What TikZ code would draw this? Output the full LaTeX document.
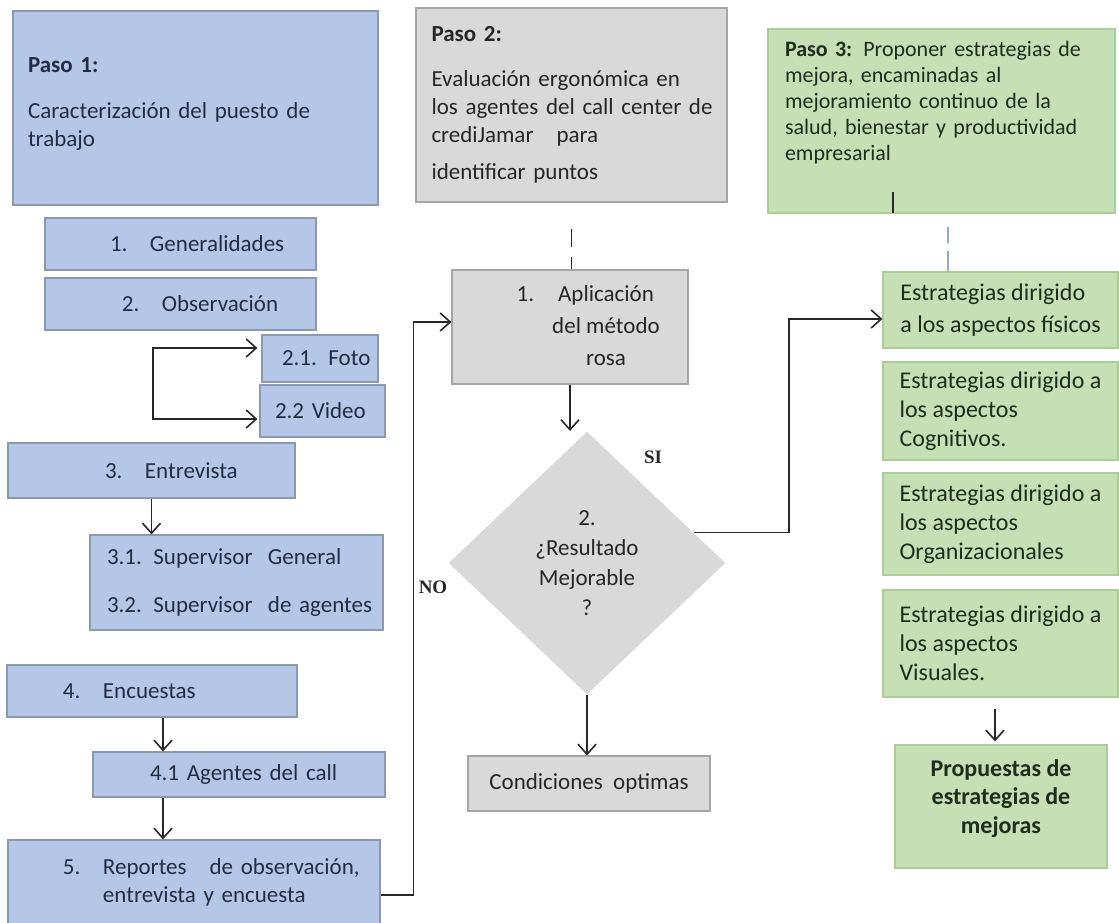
\documentclass[tikz,border=0pt]{standalone}
\usepackage{fontspec}
\setmainfont{Carlito}
\newfontfamily\labelfont{Liberation Serif}
\usetikzlibrary{shapes.geometric, arrows.meta, calc, positioning}

\definecolor{bluefill}{RGB}{180,199,231}
\definecolor{blueline}{RGB}{140,152,175}
\definecolor{grayfill}{RGB}{217,217,217}
\definecolor{grayline}{RGB}{165,165,165}
\definecolor{greenfill}{RGB}{197,224,180}
\definecolor{greenline}{RGB}{172,204,152}
\definecolor{inkblue}{RGB}{35,45,65}
\definecolor{inkgreen}{RGB}{30,45,30}
\definecolor{linec}{RGB}{40,40,40}
\definecolor{dashc}{RGB}{150,170,200}

\newcommand{\itemnum}[1]{\makebox[20pt][l]{#1}}

\tikzset{
  box/.style={draw, line width=0.6pt, inner sep=0pt,
    font=\fontsize{11.5}{14}\selectfont},
  bluebox/.style={box, fill=bluefill, draw=blueline, text=inkblue},
  graybox/.style={box, fill=grayfill, draw=grayline, text=black!85},
  greenbox/.style={box, fill=greenfill, draw=greenline, text=inkgreen,
    font=\fontsize{12}{14.5}\selectfont},
  arr/.style={-{Straight Barb[length=5pt,width=9pt]}, line width=0.8pt, draw=linec},
  biarr/.style={{Straight Barb[length=5pt,width=9pt]}-{Straight Barb[length=5pt,width=9pt]},
    line width=0.8pt, draw=linec},
  yesno/.style={font=\labelfont\bfseries\fontsize{9.5}{11}\selectfont, text=black!85},
}

\begin{document}
\begin{tikzpicture}[x=0.5pt, y=-0.5pt]
\fill[white] (0,0) rectangle (1119,922);
\useasboundingbox (0,0) rectangle (1119,922);

% Paso 1
\node[bluebox, minimum width=182.5pt, minimum height=97pt, text width=167.5pt, align=left]
  (paso1) at (195.5,108) {\textbf{Paso 1:}\\[9pt]Caracterización del puesto de\\trabajo\\[-8pt]\mbox{}};
\node[bluebox, minimum width=135.5pt, minimum height=26pt, text width=127.5pt, align=left]
  (gen) at (180.5,244) {\hspace*{28.5pt}\itemnum{1.}Generalidades};
\node[bluebox, minimum width=135.5pt, minimum height=26pt, text width=127.5pt, align=left]
  (obs) at (180.5,304) {\hspace*{34.5pt}\itemnum{2.}Observación};
\node[bluebox, minimum width=58pt, minimum height=23.5pt, text width=56pt, align=left]
  (foto) at (320,358.5) {\hspace*{9pt}2.1. Foto};
\node[bluebox, minimum width=62.5pt, minimum height=26pt, text width=58.5pt, align=left]
  (video) at (322.5,411) {\hspace*{5.5pt}2.2 Video};
\node[bluebox, minimum width=143.5pt, minimum height=27.5pt, text width=135.5pt, align=left]
  (entre) at (151.5,470.5) {\hspace*{44.5pt}\itemnum{3.}Entrevista};
\node[bluebox, minimum width=146.5pt, minimum height=47.5pt, text width=138.5pt, align=left]
  (superv) at (236.5,582.5) {\hspace*{4.5pt}3.1. Supervisor\ \ General\\[10pt]\hspace*{4.5pt}3.2. Supervisor\ \ de agentes};
\node[bluebox, minimum width=145pt, minimum height=26pt, text width=137pt, align=left]
  (encu) at (152,691) {\hspace*{24pt}\itemnum{4.}Encuestas};
\node[bluebox, minimum width=146pt, minimum height=22.5pt, text width=138pt, align=left]
  (agen) at (239,774.5) {\hspace*{24.5pt}4.1 Agentes del call};
\node[bluebox, minimum width=186pt, minimum height=42.5pt, text width=178pt, align=left]
  (repo) at (194,882.5) {\hspace*{23.5pt}\itemnum{5.}Reportes\ \ \ de observación,\\\hspace*{43.5pt}entrevista y encuesta};

% Paso 2
\node[graybox, minimum width=155.5pt, minimum height=97pt, text width=144pt, align=left]
  (paso2) at (571.5,105) {\hspace*{2pt}\textbf{Paso 2:}\\[8.5pt]\hspace*{2pt}Evaluación ergonómica en\\\hspace*{2pt}los agentes del call center de\\\hspace*{2pt}crediJamar\ \ \ para\\[4.5pt]\hspace*{2pt}identificar puntos};
\node[graybox, minimum width=118pt, minimum height=57pt, font=\fontsize{11.5}{16}\selectfont]
  (aplic) at (570,327) {\hspace*{36pt}\begin{tabular}{@{}c@{}}\llap{1.\hspace{12pt}}Aplicación\\del método\\rosa\end{tabular}};
\node[graybox, diamond, draw=none, minimum width=138.5pt, minimum height=131.5pt, align=center,
  font=\fontsize{11.5}{15}\selectfont]
  (dec) at (587,563) {2.\\¿Resultado\\Mejorable\\?};
\node[graybox, minimum width=121pt, minimum height=27.5pt]
  (cond) at (589,783.5) {Condiciones\ \ optimas};
\node[yesno] (si) at (653,457) {SI};
\node[yesno] (no) at (433,587) {NO};

% Paso 3
\node[greenbox, minimum width=173.5pt, minimum height=92pt, text width=156.5pt, align=left,
  font=\fontsize{11}{13}\selectfont]
  (paso3) at (941.5,121) {\textbf{Paso 3:} Proponer estrategias de\\mejora, encaminadas al\\mejoramiento continuo de la\\salud, bienestar y productividad\\empresarial\\[7pt]\mbox{}};
\node[greenbox, minimum width=117.5pt, minimum height=38pt, align=left]
  (fis) at (1000.5,310) {Estrategias dirigido\\[1.5pt]a los aspectos físicos};
\node[greenbox, minimum width=117.5pt, minimum height=49pt, align=left]
  (cog) at (1000.5,411) {Estrategias dirigido a\\los aspectos\\Cognitivos.};
\node[greenbox, minimum width=117.5pt, minimum height=51pt, align=left]
  (org) at (1000.5,524) {Estrategias dirigido a\\los aspectos\\Organizacionales};
\node[greenbox, minimum width=117.5pt, minimum height=53.5pt, align=left]
  (vis) at (1000.5,643.5) {Estrategias dirigido a\\los aspectos\\Visuales.};
\node[greenbox, minimum width=106pt, minimum height=61.5pt, align=center,
  font=\bfseries\fontsize{12}{14.25}\selectfont]
  (prop) at (1001,806.5) {Propuestas de\\estrategias de\\mejoras\\[-4.25pt]\mbox{}};

% connectors, left column
\coordinate (b1) at (153,348);
\coordinate (b2) at (153,419);
\draw[biarr, shorten <=2pt, shorten >=1pt] (b1 -| foto.west) -- (b1) -- (b2) -- (b2 -| video.west);
\draw[arr] (entre.south) -- (entre.south |- superv.north);
\coordinate (e1) at ($(encu.south)+(11,0)$);
\draw[arr] (e1) -- (e1 |- agen.north);
\draw[arr] (e1 |- agen.south) -- (e1 |- repo.north);
\draw[arr] ($(repo.east)+(0,12.5)$) -- ++(33,0) |- ($(aplic.west)+(0,-5)$);

% connectors, middle column
\draw[linec, line width=0.8pt, dash pattern=on 9pt off 5pt]
  ($(paso2.south)+(0,26)$) -- (paso2.south |- aplic.north);
\draw[arr] (aplic.south) -- (aplic.south |- dec.north);
\draw[arr] (dec.south) -- (dec.south |- cond.north);
\coordinate (d1) at ($(dec.east)!0.23!(dec.north)$);
\draw[arr] (d1) -- ++(95,0) |- ($(fis.west)+(0,9)$);

% connectors, right column
\draw[linec, line width=0.8pt] ($(paso3.south)+(-48.5,-1)$) -- ++(0,-21);
\draw[dashc, line width=1pt, dash pattern=on 10pt off 4pt]
  ($(fis.north)+(-52.5,0)$) -- ++(0,-44);
\coordinate (v1) at ($(vis.south)+(-5.5,11)$);
\draw[arr, shorten >=1.5pt] (v1) -- (v1 |- prop.north);
\end{tikzpicture}
\end{document}
